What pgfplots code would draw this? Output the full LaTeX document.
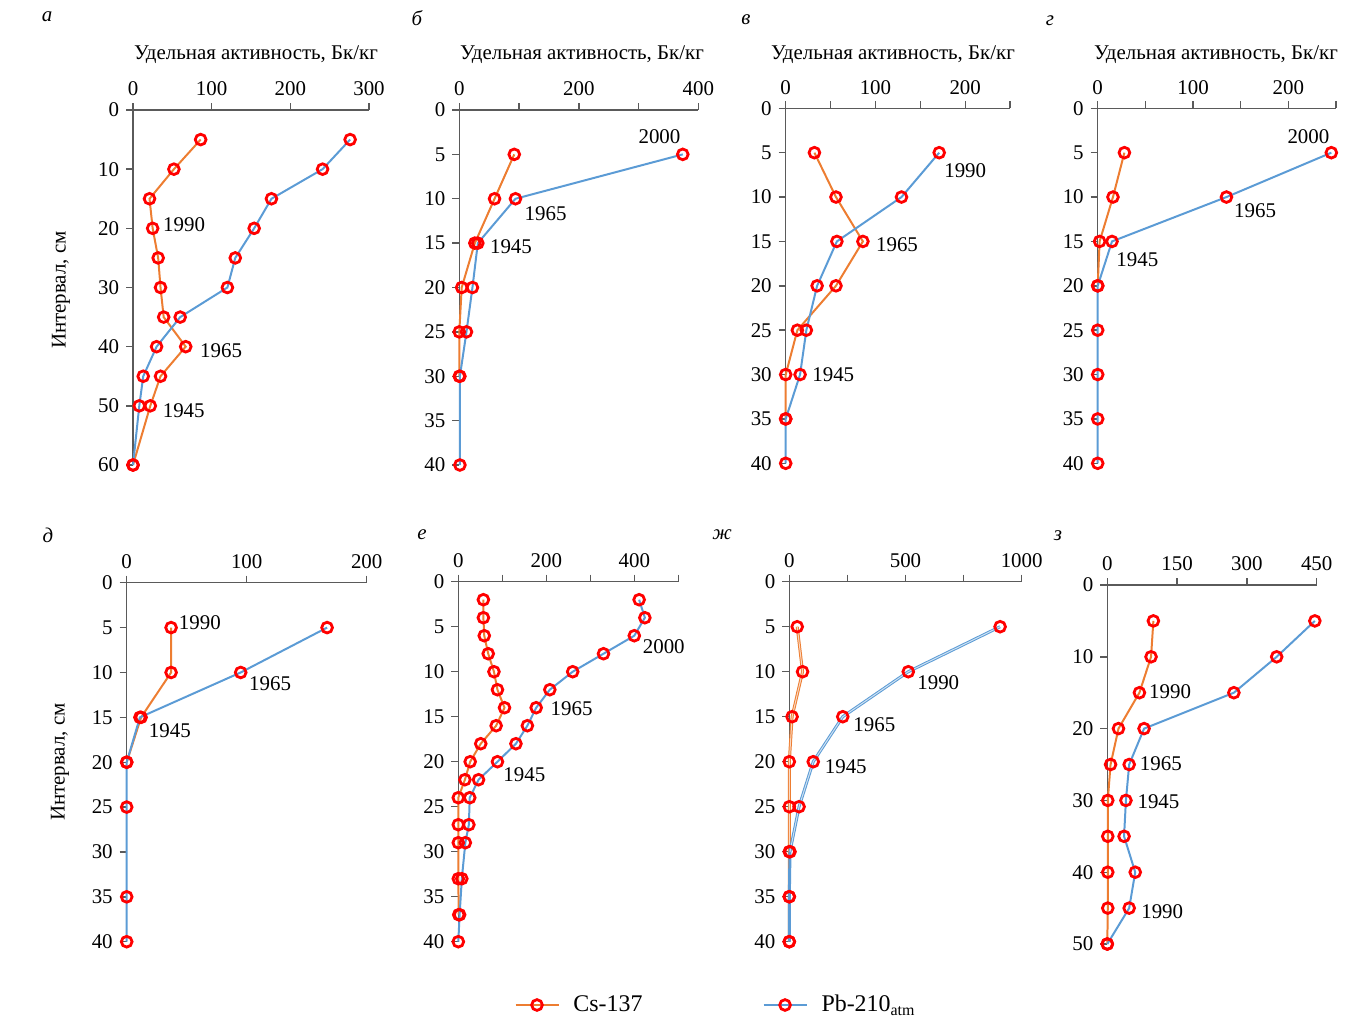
\documentclass[border=0pt]{standalone}
\usepackage{fontspec}
\setmainfont{Liberation Serif}
\usepackage{pgfplots}
\pgfplotsset{compat=1.18}
\definecolor{csorange}{RGB}{237,125,49}
\definecolor{pbblue}{RGB}{91,155,213}
\definecolor{axgray}{RGB}{90,90,90}
\pgfplotsset{
  panel/.style={
    scale only axis, anchor=north west,
    y dir=reverse,
    axis x line*=top, axis y line*=left,
    axis line style={axgray, line width=0.7pt},
    tick style={axgray, line width=0.7pt},
    tick align=outside,
    major tick length=3.5pt,
    xmin=0, ymin=0,
    enlargelimits=false,
    clip=false,
    tick label style={font=\fontsize{10.5}{12}\selectfont},
    /pgf/number format/assume math mode=true,
    /pgf/number format/1000 sep={},
  },
  cs/.style={color=csorange, line width=1pt, mark=o, mark size=2.7pt,
    mark options={draw=red, line width=1.4pt, solid}},
  pb/.style={color=pbblue, line width=1pt, mark=o, mark size=2.7pt,
    mark options={draw=red, line width=1.4pt, solid}},
}
\tikzset{yr/.style={font=\fontsize{10.5}{12}\selectfont, inner sep=0pt},
  lab/.style={font=\fontsize{10.5}{12}\selectfont}}
\newcommand{\ttl}{Удельная активность, Бк/кг}
\begin{document}
\begin{tikzpicture}
\path[use as bounding box] (0,0) rectangle (676.5bp,-513.5bp);
% titles and letters
\node[lab] at (128bp,-27.5bp) {\ttl};
\node[lab] at (291bp,-27.5bp) {\ttl};
\node[lab] at (446.5bp,-27.5bp) {\ttl};
\node[lab] at (608bp,-27.5bp) {\ttl};
\node[lab] at (23.5bp,-8.5bp) {\itshape а};
\node[lab] at (208.5bp,-9bp) {\itshape б};
\node[lab] at (373bp,-10bp) {\itshape в};
\node[lab] at (525bp,-10.5bp) {\itshape г};
\node[lab] at (24bp,-267.5bp) {\itshape д};
\node[lab] at (211bp,-267.5bp) {\itshape е};
\node[lab] at (361bp,-267.5bp) {\itshape ж};
\node[lab] at (529bp,-268bp) {\itshape з};
\node[lab, rotate=90] at (30.5bp,-145bp) {Интервал, см};
\node[lab, rotate=90] at (30bp,-381bp) {Интервал, см};

% ---- а
\begin{axis}[panel, at={(66.5bp,-55bp)}, width=118bp, height=177.5bp,
  xmax=300, ymax=60, xtick={0,100,200,300}, ytick={0,10,...,60}]
\addplot[cs] coordinates {(86,5)(52,10)(21,15)(25,20)(32,25)(35,30)(39,35)(67,40)(35,45)(22,50)(0,60)};
\addplot[pb] coordinates {(276,5)(241,10)(176,15)(154,20)(130,25)(120,30)(60,35)(30,40)(13,45)(8,50)(0,60)};
\node[yr] at (axis cs:65,19.3) {1990};
\node[yr] at (axis cs:112,40.7) {1965};
\node[yr] at (axis cs:64.5,50.8) {1945};
\end{axis}

% ---- б
\begin{axis}[panel, at={(229.65bp,-55bp)}, width=119.5bp, height=177.5bp,
  xmax=400, ymax=40, xtick={0,100,...,400}, xticklabels={0,,200,,400}, ytick={0,5,...,40}]
\addplot[cs] coordinates {(92,5)(59,10)(26,15)(4,20)(0,25)(0,30)};
\addplot[pb] coordinates {(374,5)(94,10)(31,15)(22,20)(12,25)(1,30)(1,40)};
\node[yr] at (axis cs:335,3.0) {2000};
\node[yr] at (axis cs:144.5,11.65) {1965};
\node[yr] at (axis cs:86.5,15.4) {1945};
\end{axis}

% ---- в
\begin{axis}[panel, at={(392.85bp,-54.15bp)}, width=112.2bp, height=177.5bp,
  xmax=250, ymax=40, xtick={0,50,...,250}, xticklabels={0,,100,,200,}, ytick={0,5,...,40}]
\addplot[cs] coordinates {(32,5)(56,10)(86,15)(56,20)(13,25)(0,30)(0,35)};
\addplot[pb] coordinates {(171,5)(129,10)(57,15)(35,20)(23,25)(16,30)(0,35)(0,40)};
\node[yr] at (axis cs:200,7.0) {1990};
\node[yr] at (axis cs:124,15.4) {1965};
\node[yr] at (axis cs:53,30) {1945};
\end{axis}

% ---- г
\begin{axis}[panel, at={(548.85bp,-54.15bp)}, width=119.2bp, height=177.5bp,
  xmax=250, ymax=40, xtick={0,50,...,250}, xticklabels={0,,100,,200,}, ytick={0,5,...,40}]
\addplot[cs] coordinates {(28,5)(16,10)(2,15)(0,20)};
\addplot[pb] coordinates {(245,5)(135,10)(15,15)(0,20)(0,25)(0,30)(0,35)(0,40)};
\node[yr] at (axis cs:221,3.2) {2000};
\node[yr] at (axis cs:165,11.5) {1965};
\node[yr] at (axis cs:41.6,17) {1945};
\end{axis}

% ---- д
\begin{axis}[panel, at={(63.35bp,-291.35bp)}, width=120bp, height=179.5bp,
  xmax=200, ymax=40, xtick={0,100,200}, ytick={0,5,...,40}]
\addplot[cs] coordinates {(37,5)(37,10)(12,15)(0,20)};
\addplot[pb] coordinates {(167,5)(95,10)(11,15)(0,20)(0,25)(0,35)(0,40)};
\node[yr] at (axis cs:61,4.4) {1990};
\node[yr] at (axis cs:119.5,11.2) {1965};
\node[yr] at (axis cs:36,16.5) {1945};
\end{axis}

% ---- е
\begin{axis}[panel, at={(229.15bp,-290.85bp)}, width=110bp, height=180bp,
  xmax=500, ymax=40, xtick={0,100,...,500}, xticklabels={0,,200,,400,}, ytick={0,5,...,40}]
\addplot[cs] coordinates {(57,2)(57,4)(59,6)(68,8)(81,10)(89,12)(105,14)(86,16)(51,18)(27,20)(15,22)(0,24)(0,27)(0,29)(0,33)(1,37)};
\addplot[pb] coordinates {(411,2)(424,4)(400,6)(330,8)(260,10)(208,12)(177,14)(157,16)(131,18)(89,20)(46,22)(26,24)(24,27)(16,29)(8,33)(3,37)(0,40)};
\node[yr] at (axis cs:467,7.2) {2000};
\node[yr] at (axis cs:257.6,14.1) {1965};
\node[yr] at (axis cs:150,21.4) {1945};
\end{axis}

% ---- ж
\begin{axis}[panel, at={(394.65bp,-290.85bp)}, width=116.2bp, height=180bp,
  xmax=1000, ymax=40, xtick={0,250,...,1000}, xticklabels={0,,500,,1000}, ytick={0,5,...,40}]
\addplot[color=csorange, line width=1.5pt, no marks] coordinates {(34,5)(57,10)(12,15)(0,20)(0,25)(0,30)(0,35)(0,40)};
\addplot[color=csorange!30!white, line width=0.5pt, no marks] coordinates {(34,5)(57,10)(12,15)(0,20)(0,25)(0,30)};
\addplot[cs, only marks] coordinates {(34,5)(57,10)(12,15)(0,20)(0,25)(0,30)(0,35)(0,40)};
\addplot[color=pbblue, line width=1.5pt, no marks] coordinates {(907,5)(512,10)(230,15)(103,20)(42,25)(3,30)(0,35)(0,40)};
\addplot[color=pbblue!30!white, line width=0.5pt, no marks] coordinates {(907,5)(512,10)(230,15)(103,20)(42,25)(3,30)};
\addplot[pb, only marks] coordinates {(907,5)(512,10)(230,15)(103,20)(42,25)(3,30)(0,35)(0,40)};
\node[yr] at (axis cs:641,11.2) {1990};
\node[yr] at (axis cs:366,15.9) {1965};
\node[yr] at (axis cs:243,20.6) {1945};
\end{axis}

% ---- з
\begin{axis}[panel, at={(553.65bp,-292.5bp)}, width=104.7bp, height=179.5bp,
  xmax=450, ymax=50, xtick={0,150,300,450}, ytick={0,10,...,50}]
\addplot[cs] coordinates {(99,5)(94,10)(69,15)(24,20)(7,25)(1,30)(1,35)(1,40)(1,45)(0,50)};
\addplot[pb] coordinates {(446,5)(364,10)(272,15)(79,20)(47,25)(40,30)(36,35)(60,40)(47,45)(0,50)};
\node[yr] at (axis cs:135,14.8) {1990};
\node[yr] at (axis cs:115,24.9) {1965};
\node[yr] at (axis cs:110,30.2) {1945};
\node[yr] at (axis cs:118,45.5) {1990};
\end{axis}

% ---- legend
\begin{axis}[hide axis, scale only axis, width=1pt, height=1pt,
  at={(358.5bp,-502.5bp)}, anchor=center, xmin=0, xmax=1, ymin=0, ymax=1,
  legend columns=2,
  legend style={draw=none, fill=none, at={(0.5,0.5)}, anchor=center,
    font=\fontsize{12}{14}\selectfont,
    /tikz/every odd column/.append style={column sep=5bp},
    /tikz/every even column/.append style={column sep=58bp}},
  legend image code/.code={\draw[mark repeat=2,mark phase=2] plot coordinates {(0bp,0bp)(10.75bp,0bp)(21.5bp,0bp)};}]
\addlegendimage{cs}
\addlegendentry{Cs-137}
\addlegendimage{pb}
\addlegendentry{Pb-210\textsubscript{atm}}
\end{axis}
\end{tikzpicture}
\end{document}
